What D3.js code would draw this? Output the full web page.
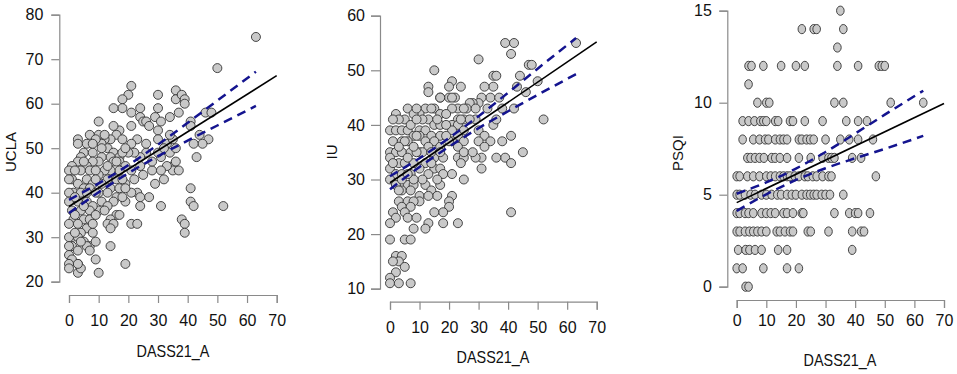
<!DOCTYPE html>
<html><head><meta charset="utf-8">
<script src="https://cdnjs.cloudflare.com/ajax/libs/d3/7.8.5/d3.min.js"></script>
<style>
html,body{margin:0;padding:0;background:#fff;}
svg{display:block;font-family:"Liberation Sans",Arial,sans-serif;}
.axis path,.axis line{stroke:#8a8a8a;stroke-width:1.2;}
.axis text{fill:#111;font-size:16px;}
</style></head>
<body><svg id="c" width="957" height="374"></svg>
<script>
// ---------- DATA ----------
const xTicks = [0,10,20,30,40,50,60,70];
const xLabel = "DASS21_A";

// Panel 1: UCLA
const uclaTicks = [20,30,40,50,60,70,80];
const uclaPts = [
[63,75],[50,68],[52,37],[21,64],[20,62],[18,61],[18,59],[15,59],[30,62],[30,59],[36,63],[36,61],[38,62],[39,61],[39,60],[37,58],[34,57],[46,58],[48,58],[41,56],[41,55],[47,52],[44,53],[45,51],[42,51],[43,48],[41,41],[41,38],[42,37],[38,34],[39,33],[39,31],[31,37],[29,42],[27,39],[9,25],[10,22],[19,24],[14,28],[3,22],[3,24],[4,23],[10,56],[21,33],[23,33],[24,37],
[21,58],[21,55],[24,59],[24,57],[25,56],[26,56],[29,57],[31,56],[30,54],[30,52],[33,51],[35,52],[34,49],[35,46],[35,45],[33,46],[31,48],[30,49],[28,45],[26,49],[26,51],[23,52],[24,48],[24,46],[22,49],[21,51],[20,49],[21,45],[22,43],[23,40],[24,39],[21,40],[19,42],[19,38],[31,45],[36,47],[37,45],[32,50],[27,55],[28,47],[34,53],[36,50],[25,44],[32,43],
[17,54],[16,53],[14,52],[18,52],[12,52],[11,51],[10,53],[13,50],[15,49],[17,48],[18,49],[14,48],[11,48],[10,47],[15,47],[17,47],[19,46],[17,45],[14,45],[12,45],[10,44],[13,43],[16,43],[18,43],[11,42],[14,41],[17,41],[19,41],[10,40],[13,40],[16,39],[18,39],[11,38],[15,38],[13,37],[10,36],[12,36],[16,35],[17,35],[14,34],[13,33],[15,33],[14,32],[12,53],[11,50],[19,50],[15,55],[13,46],[16,47],
[3,52],[3,51],[6,51],[7,53],[5,49],[4,48],[8,49],[8,47],[6,46],[3,47],[1,46],[0,45],[4,45],[7,45],[9,45],[1,43],[0,43],[3,42],[6,43],[8,42],[5,41],[7,41],[1.5,40],[4,40],[0,40],[9,40],[0,38],[3,38],[6,38],[8,37],[1,36],[4,36],[7,36],[1.5,34],[5,34],[7,34],[0,33],[3,33],[6,32],[8,31],[4,31],[1,30],[0,30],[3,30],[5,29],[7,28],[9,29],[1,28],[0,28],[3,27],[0,26],[1,25],[0,24],[3,24],[0,23],[6,28],[7,27],[9,52],[8,51],[2,45],[5,47],[2,39],[9,43],[6,40],[2,35],[5,37],[9,35],[8,33],[2,31],[4,29]
];
const fitX = [0,70];
const uclaFit = [36.9,66.3];
const ciX = [0,10,20,30,40,50,63];
const uclaUpper = [38.4,42.1,46.2,50.8,55.7,60.7,67.2];
const uclaLower = [35.4,40.1,44.4,48.2,51.7,55.1,59.5];

// Panel 2: IU
const iuTicks = [10,20,30,40,50,60];
const iuPts = [
[39,55],[42,55],[41,53],[63,55],[30,52],[15,50],[47,51],[48,51],[50,48],[52,41],[46,46],[44,49],[43,47],[42,43],[41,38],[38,37],[39,34],[41,33],[45,35],[41,24],[36,34],[35,49],[36,49],[35,47],[34,45],[32,47],[31,45],[33,43],[30,44],[28,44],[27,44],[26,43],[29,41],[30,39],[32,38],[34,37],[35,40],[36,41],[37,45],[38,43],[31,34],[29,34],[31,32],[30,37],[32,36],
[21,48],[20,47],[24,47],[22,45],[23,43],[21,43],[23,41],[25,41],[27,41],[21,40],[23,40],[25,39],[23,38],[21,37],[25,37],[23,36],[23,34],[25,34],[21,31],[25,30],[21,27],[20,26],[20,25],[18,24],[23,22],[18,22],[20,45],[17,45],[21,45],[25,43],[29,43],[24,41],[21,39],[20,37],[25,35],[28,35],[24,33],
[13,47],[13,46],[17,45],[12,43],[15,43],[17,42],[19,42],[10,42],[13,41],[15,40],[17,40],[19,40],[10,39],[12,39],[14,38],[17,38],[19,38],[10,38],[12,37],[15,37],[17,36],[13,36],[10,35],[15,34],[18,34],[12,33],[15,32],[17,32],[10,32],[13,31],[18,31],[12,29],[17,29],[14,28],[10,27],[16,27],[13,27],[10,26],[15,24],[13,22],[12,21],[11,41],[14,43],[16,41],[11,35],[14,35],[17,35],[11,30],[16,30],[14,33],
[0,39],[2,39],[4,39],[6,39],[8,38],[1,37],[4,37],[6,37],[9,38],[0,35],[2,35],[4,35],[7,35],[9,35],[0,34],[3,33],[5,33],[8,33],[0,32],[2,31],[4,31],[7,31],[0,30],[2,29],[6,29],[8,29],[4,28],[7,28],[3,26],[6,26],[8,26],[4,25],[7,25],[1,24],[5,24],[2,23],[0,22],[6,23],[9,23],[0,19],[5,19],[7,19],[8,21],[2,16],[4,16],[3,15],[1,15],[5,14],[2,13],[0,12],[0,11],[3,11],[7,11],[6,43],[5,41],[8,42],[2,42],[9,43],[3,41],[7,40],[1,41],[9,41],[5,37],[8,36],[3,36],[6,34],[1,33],[4,30],[8,30],[6,31],[3,28]
];
const iuFit = [29.4,55.2];
const iuUpper = [30.6,33.9,37.6,41.6,45.9,50.3,55.9];
const iuLower = [28.2,32.3,36.0,39.4,42.5,45.5,49.3];

// Panel 3: PSQI
const psqiTicks = [0,5,10,15];
const psqiPts = [
[3,0],[4,0],
[0,1],[2,1],[9,1],[17,1],[21,1],
[0.5,2],[3,2],[4.3,2],[6.2,2],[8.4,2],[14,2],[17,2],[39,2],
[0,3],[1,3],[2.8,3],[4.3,3],[5.6,3],[7,3],[8.4,3],[10,3],[13.5,3],[14.6,3],[16.3,3],[18,3],[19,3],[24,3],[25,3],[31,3],[39,3],[42,3],[43,3],
[0,4],[1,4],[2.8,4],[4,4],[5.6,4],[8.4,4],[10,4],[11.5,4],[13,4],[15.8,4],[17,4],[19,4],[22,4],[22.5,4],[33,4],[38,4],[40,4],[41,4],[45,4],
[0,5],[1,5],[2.8,5],[4.7,5],[6.2,5],[8.4,5],[10,5],[11.8,5],[13.7,5],[15,5],[17,5],[18.6,5],[20,5],[22,5],[23.6,5],[24.8,5],[26,5],[27,5],[28.7,5],[30,5],[31.5,5],[36,5],
[0,6],[1,6],[3.6,6],[5.6,6],[7.7,6],[10,6],[11.5,6],[13,6],[14.6,6],[15.8,6],[17,6],[18,6],[19.6,6],[21,6],[23,6],[24,6],[25.7,6],[27,6],[29,6],[31,6],[32,6],[47,6],
[3.6,7],[4.7,7],[6.2,7],[7.7,7],[9.2,7],[11.8,7],[13,7],[14.6,7],[17,7],[21,7],[25,7],[29,7],[31,7],[32,7],[33,7],[39,7],[42,7],
[2,8],[5.6,8],[7.7,8],[9.6,8],[10.7,8],[13,8],[14.6,8],[15.8,8],[17,8],[21,8],[22,8],[23.6,8],[24.8,8],[26,8],[30,8],[35,8],[38,8],[41,8],[46,8],
[2,9],[4,9],[6,9],[8,9],[9,9],[10,9],[13,9],[14,9],[18,9],[19,9],[23,9],[29,9],[37,9],[41,9],[44,9],
[7,10],[10,10],[11,10],[33,10],[36,10],[52,10],[63,10],
[4,11],
[4,12],[5,12],[9,12],[15,12],[20,12],[23,12],[34,12],[41,12],[48,12],[49,12],[50,12],
[34,13],
[22,14],[26,14],[27,14],[36,14],
[35,15]
];
const psqiFit = [4.57,9.96];
const psqiUpper = [5.05,5.67,6.42,7.32,8.32,9.35,10.65];
const psqiLower = [4.12,5.02,5.80,6.44,6.98,7.49,8.20];

// ---------- DRAW ----------
const svg = d3.select("#c");

function panel(cfg){
  const xS = d3.scaleLinear().domain([0,70]).range(cfg.xr);
  const yS = d3.scaleLinear().domain(cfg.yd).range(cfg.yr);
  const g = svg.append("g");

  g.append("g").attr("class","axis")
    .attr("transform",`translate(${cfg.yAxisX},0)`)
    .call(d3.axisLeft(yS).tickValues(cfg.yt).tickSizeOuter(0).tickSize(cfg.ytl).tickPadding(cfg.ytp).tickFormat(d3.format("d")));
  g.append("g").attr("class","axis")
    .attr("transform",`translate(0,${cfg.xAxisY})`)
    .call(d3.axisBottom(xS).tickValues(xTicks).tickSizeOuter(0).tickSize(cfg.xtl).tickPadding(cfg.xtp).tickFormat(d3.format("d")));

  g.append("g").selectAll("ellipse").data(cfg.pts).join("ellipse")
    .attr("cx",d=>xS(d[0])).attr("cy",d=>yS(d[1]))
    .attr("rx",cfg.rx).attr("ry",cfg.ry)
    .attr("fill","#c9c9c9").attr("stroke","#333").attr("stroke-width",0.9);

  const ln = d3.line().x(d=>xS(d[0])).y(d=>yS(d[1])).curve(d3.curveMonotoneX);
  [cfg.up,cfg.lo].forEach(arr=>{
    g.append("path").attr("d",ln(ciX.map((x,i)=>[x,arr[i]])))
      .attr("fill","none").attr("stroke","#14148f").attr("stroke-width",2.5)
      .attr("stroke-dasharray","9,6");
  });
  g.append("path").attr("d",d3.line().x(d=>xS(d[0])).y(d=>yS(d[1]))(fitX.map((x,i)=>[x,cfg.fit[i]])))
    .attr("fill","none").attr("stroke","#000").attr("stroke-width",1.6);

  svg.append("text").attr("transform",`translate(${cfg.xlab[0]},${cfg.xlab[1]}) scale(0.9,1)`)
    .attr("text-anchor","middle").attr("dominant-baseline","central")
    .attr("font-size",16).attr("fill","#111").text(xLabel);
  svg.append("text").attr("transform",`translate(${cfg.ylab[0]},${cfg.ylab[1]}) rotate(-90)`)
    .attr("text-anchor","middle").attr("dominant-baseline","central")
    .attr("font-size",15).attr("fill","#111").text(cfg.yname);
}

panel({xr:[69,276.7], yd:[20,80], yr:[281.7,14.7], yt:uclaTicks, yAxisX:59.3, xAxisY:295,
  ytl:8, ytp:8, xtl:8, xtp:12, pts:uclaPts, rx:4.5, ry:4.5,
  up:uclaUpper, lo:uclaLower, fit:uclaFit, xlab:[173,351], ylab:[10,152], yname:"UCLA"});
panel({xr:[390,596.7], yd:[10,60], yr:[288.7,15.7], yt:iuTicks, yAxisX:380, xAxisY:301.7,
  ytl:9, ytp:6, xtl:8, xtp:12, pts:iuPts, rx:4.5, ry:4.5,
  up:iuUpper, lo:iuLower, fit:iuFit, xlab:[493,357], ylab:[331,152], yname:"IU"});
panel({xr:[736.7,944], yd:[0,15], yr:[286.7,10.7], yt:psqiTicks, yAxisX:727.3, xAxisY:300,
  ytl:8, ytp:7.5, xtl:8, xtp:7, pts:psqiPts, rx:3.8, ry:4.6,
  up:psqiUpper, lo:psqiLower, fit:psqiFit, xlab:[840,360], ylab:[677,153], yname:"PSQI"});
</script></body></html>
